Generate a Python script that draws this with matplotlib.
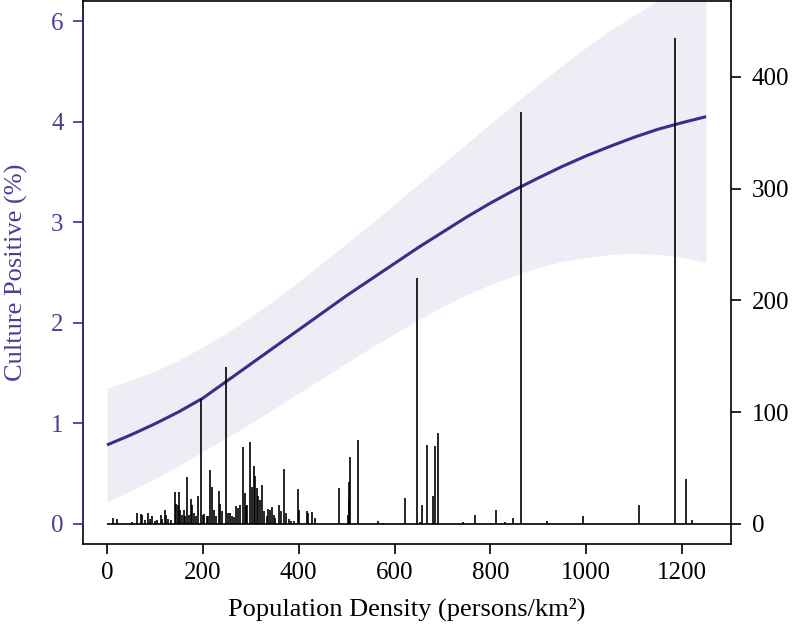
import numpy as np
import matplotlib
matplotlib.use("Agg")
import matplotlib.pyplot as plt

# ---------------- data ----------------
# fitted curve (Culture Positive %, plotted in left-axis units)
curve_x = [0, 50, 100, 150, 200, 250, 300, 350, 400, 450, 500, 550, 600, 650, 700,
           750, 800, 850, 900, 950, 1000, 1050, 1100, 1150, 1200, 1250]
curve_y = [0.785, 0.885, 0.995, 1.115, 1.25, 1.42, 1.59, 1.76, 1.93, 2.10, 2.27, 2.43,
           2.59, 2.75, 2.90, 3.05, 3.19, 3.32, 3.44, 3.555, 3.66, 3.755, 3.845, 3.925, 3.99, 4.05]

band_x = [0, 50, 100, 150, 200, 250, 300, 350, 400, 450, 500, 550, 600, 650, 700,
          750, 800, 850, 900, 950, 1000, 1050, 1100, 1150, 1200, 1250]
band_upper = [1.35, 1.43, 1.52, 1.63, 1.76, 1.90, 2.06, 2.23, 2.41, 2.60, 2.79, 2.98, 3.18,
              3.38, 3.58, 3.78, 3.98, 4.18, 4.37, 4.56, 4.74, 4.91, 5.06, 5.21, 5.35, 5.48]
band_lower = [0.22, 0.33, 0.45, 0.58, 0.72, 0.86, 1.00, 1.15, 1.30, 1.45, 1.60, 1.75, 1.89,
              2.03, 2.16, 2.28, 2.38, 2.47, 2.55, 2.61, 2.65, 2.68, 2.69, 2.68, 2.65, 2.60]

# counts per population density (right axis)
bar_x = [13, 20, 53, 63, 70, 74, 80, 86, 90, 95, 100, 105, 113, 115, 121, 124, 128, 134,
         141, 145, 148, 150, 153, 156, 160, 163, 168, 172, 175, 178, 182, 185, 189, 196,
         200, 203, 208, 211, 216, 220, 223, 228, 234, 236, 240, 248, 252, 257, 260, 265,
         269, 273, 277, 283, 287, 290, 293, 299, 302, 306, 309, 313, 316, 320, 324, 328,
         333, 337, 340, 345, 348, 351, 359, 364, 370, 373, 380, 385, 391, 398, 401, 417,
         420, 427, 434,
         484, 502, 504, 506, 507, 523, 565, 575, 622, 646, 653, 657, 668, 681, 685, 691,
         743, 768, 812, 830, 848, 864, 918, 993, 1110, 1186, 1209, 1221]
bar_counts = [5.4, 4.4, 1.5, 9.3, 8.7, 8.4, 3.3, 10.1, 4.4, 7.3, 2.7, 3.3, 7.8, 4.4, 12.1, 8.4, 4.4, 3.8,
              28.3, 18.2, 17.3, 28.6, 12.7, 8.4, 12.1, 7.3, 42, 8.4, 22.6, 17.3, 9.8, 7.3, 25.3, 112,
              8.4, 9.0, 7.3, 6.7, 48.3, 33.1, 12.1, 7.3, 29.6, 18.2, 11.3, 140, 9.8, 9.3, 7.3, 6.3,
              16.3, 14.3, 17.3, 68.6, 27.7, 16.3, 17.3, 73.1, 32.8, 52.2, 42.6, 32.2, 24.7, 21.7, 34.8, 11.3,
              7.3, 13.4, 12.7, 15.2, 8.4, 5.4, 17.3, 11.3, 49.5, 9.8, 4.4, 2.7, 3.0, 31.3, 12.1, 11.9,
              9.8, 10.4, 5.4,
              32.5, 7.7, 21.8, 37.2, 59.9, 75.2, 3.0, 0.9, 23.3, 220, 1.5, 17, 70.9, 25, 70, 81.4,
              1.5, 8.4, 12.5, 1.5, 5.4, 369, 3.0, 7.4, 16.7, 435, 40.5, 3.3]

left_tick_labels = ['0', '1', '2', '3', '4', '6']
right_ticks = [0, 100, 200, 300, 400]
x_ticks = [0, 200, 400, 600, 800, 1000, 1200]

# ---------------- style ----------------
plt.rcParams['font.family'] = ['Liberation Serif', 'DejaVu Serif']
purple = '#3a2d8c'
label_purple = '#4a3f96'

fig = plt.figure(figsize=(7.92, 6.30), dpi=100)
ax = fig.add_axes([83/792, 1 - 544/630, (731-83)/792, (544-1)/630])
ax2 = ax.twinx()

# confidence band and curve
ax.fill_between(band_x, band_lower, band_upper, color=purple, alpha=0.085, lw=0)
ax.plot(curve_x, curve_y, color=purple, lw=2.2, solid_capstyle='butt')

# bars (counts)
ax2.vlines(bar_x, 0, bar_counts, color='black', lw=1.2)
ax2.hlines(0, 0, 1302, color='black', lw=1.2)

ax.set_xlim(-50, 1302)
ax.set_ylim(-0.2, 5.2)
ax2.set_ylim(-18, 468)

# left axis
ax.set_yticks(range(len(left_tick_labels)))
ax.set_yticklabels(left_tick_labels)
ax.tick_params(axis='y', direction='out', length=7, width=1.2, colors=purple,
               labelcolor=label_purple, labelsize=18, pad=7)
ax.spines['left'].set_color(purple)
ax.spines['left'].set_linewidth(1.3)
ax.spines['left'].set_bounds(0, 5)
ax.spines['left'].set_zorder(3)
ax.plot([0, 0], [0, 1], transform=ax.transAxes, color='black', lw=1.2,
        clip_on=False, zorder=2.4)
for s in ['top', 'right', 'bottom']:
    ax.spines[s].set_visible(False)
ax.set_ylabel('Culture Positive (%)', color=label_purple, fontsize=19)
ax.yaxis.set_label_coords(-0.085, 0.5)

# x axis
ax.set_xticks(x_ticks)
ax.tick_params(axis='x', direction='out', length=7, width=1.2, colors='black',
               labelsize=18, pad=6)
ax.set_xlabel('Population Density (persons/km²)', fontsize=19, labelpad=10)

# right axis
ax2.set_yticks(right_ticks)
ax2.tick_params(axis='y', direction='out', length=7, width=1.2, colors='black',
                labelsize=18, pad=8)
ax2.spines['left'].set_visible(False)
for s in ['top', 'right', 'bottom']:
    ax2.spines[s].set_color('black')
    ax2.spines[s].set_linewidth(1.2)

fig.savefig('out.png', dpi=100)
